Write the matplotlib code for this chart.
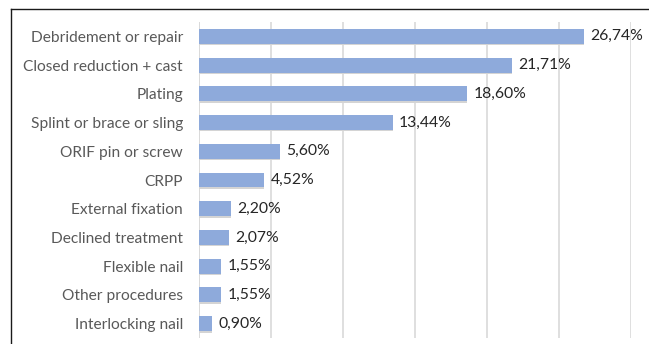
import matplotlib
matplotlib.use("Agg")
import matplotlib.pyplot as plt
from matplotlib.lines import Line2D

categories = ["Debridement or repair", "Closed reduction + cast", "Plating",
              "Splint or brace or sling", "ORIF pin or screw", "CRPP",
              "External fixation", "Declined treatment", "Flexible nail",
              "Other procedures", "Interlocking nail"]
values = [26.74, 21.71, 18.60, 13.44, 5.60, 4.52, 2.20, 2.07, 1.55, 1.55, 0.90]
value_labels = ["26,74%", "21,71%", "18,60%", "13,44%", "5,60%", "4,52%",
                "2,20%", "2,07%", "1,55%", "1,55%", "0,90%"]
xticks = [0, 5, 10, 15, 20, 25, 30]

plt.rcParams['font.family'] = ['Lato', 'DejaVu Sans']

W, H = 649, 344
fig = plt.figure(figsize=(W / 100, H / 100), dpi=100)
ax = fig.add_axes([199 / W, 1 - 338 / H, (631 - 199) / W, (338 - 22) / H])

y = list(range(len(categories)))
# subtle shadow below bars
ax.barh([v + 0.05 for v in y], values, height=0.52, color="#d4d4d4", zorder=2)
ax.barh(y, values, height=0.52, color="#8eaadb", zorder=3)

for yi, v, lab in zip(y, values, value_labels):
    ax.text(v + 0.45, yi, lab, va="center", ha="left", fontsize=11.3,
            color="#262626", zorder=4)

ax.set_xlim(0, 30)
ax.set_ylim(len(categories) - 0.5, -0.5)
ax.set_xticks(xticks)
ax.set_xticklabels([])
ax.tick_params(axis="x", length=0)
ax.set_yticks(y)
ax.set_yticklabels(categories, fontsize=11.2, color="#595959")
ax.tick_params(axis="y", length=0, pad=11.5)
ax.grid(axis="x", color="#d9d9d9", linewidth=1.2, zorder=0)
for s in ax.spines.values():
    s.set_visible(False)
ax.axvline(0, color="#d9d9d9", linewidth=1.2, zorder=1)

# outer border (top and left visible)
fig.add_artist(Line2D([11 / W, 1], [1 - 9 / H, 1 - 9 / H], color="#1a1a1a",
                      linewidth=1, transform=fig.transFigure))
fig.add_artist(Line2D([11 / W, 11 / W], [0, 1 - 9 / H], color="#1a1a1a",
                      linewidth=1, transform=fig.transFigure))

fig.savefig("out.png", dpi=100)
